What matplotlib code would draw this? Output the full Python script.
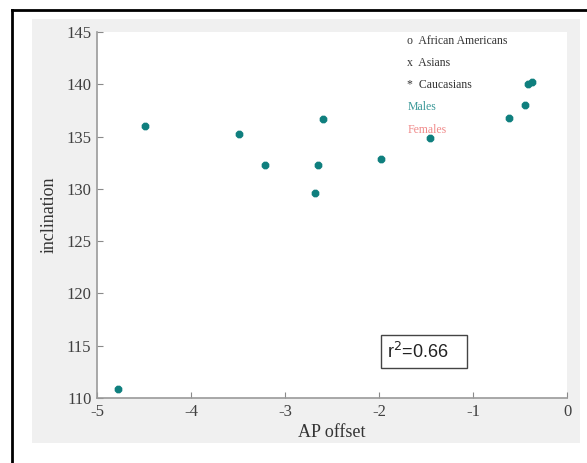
import matplotlib
matplotlib.use("Agg")
import matplotlib.pyplot as plt
from matplotlib.patches import Rectangle
from matplotlib.lines import Line2D

ap_offset = [-4.78, -4.49, -3.49, -3.21, -2.68, -2.65, -2.60, -1.98, -1.46, -0.62, -0.45, -0.41, -0.37]
inclination = [110.9, 136.0, 135.2, 132.3, 129.6, 132.3, 136.7, 132.9, 134.9, 136.8, 138.0, 140.0, 140.2]
legend_lines = ["o  African Americans", "x  Asians", "*  Caucasians", "Males", "Females"]
legend_colors = ["#333333", "#333333", "#333333", "#3a9898", "#f08a8a"]
legend_y = [144.1, 142.0, 139.9, 137.8, 135.6]
r2_text = "r$^2$=0.66"
xticks = [-5, -4, -3, -2, -1, 0]
yticks = [110, 115, 120, 125, 130, 135, 140, 145]

W, H = 587, 463
fig = plt.figure(figsize=(W / 100, H / 100), dpi=100)
fig.patch.set_facecolor("white")

# gray figure region
fig.patches.append(Rectangle((32 / W, 1 - 443 / H), (580 - 32) / W, (443 - 19) / H,
                             transform=fig.transFigure, facecolor="#f0f0f0", edgecolor="none", zorder=-5))
# outer black border (left and top)
fig.lines.append(Line2D([12 / W, 12 / W], [0, 1 - 10 / H], transform=fig.transFigure, color="black", lw=2, zorder=-4))
fig.lines.append(Line2D([12 / W, 1], [1 - 10 / H, 1 - 10 / H], transform=fig.transFigure, color="black", lw=2, zorder=-4))

ax = fig.add_axes([97 / W, 1 - 398 / H, (567 - 97) / W, (398 - 32) / H])
ax.set_zorder(1)
ax.set_facecolor("white")
ax.scatter(ap_offset, inclination, s=24, marker="8", color="#0f7f7e", edgecolors="#0f7f7e", zorder=3)

ax.set_xlim(-5, 0)
ax.set_ylim(110, 145)
ax.set_xticks(xticks)
ax.set_yticks(yticks)
serif = "Liberation Serif"
ax.set_xticklabels([str(t) for t in xticks], fontfamily=serif, fontsize=12, color="#404040")
ax.set_yticklabels([str(t) for t in yticks], fontfamily=serif, fontsize=12, color="#404040")
ax.tick_params(direction="in", length=4, color="#8a8a8a", pad=4)
for s in ["top", "right"]:
    ax.spines[s].set_visible(False)
for s in ["left", "bottom"]:
    ax.spines[s].set_color("#9a9a9a")
    ax.spines[s].set_linewidth(1.2)

ax.set_xlabel("AP offset", fontfamily=serif, fontsize=13, color="#333333", labelpad=3)
ax.set_ylabel("inclination", fontfamily=serif, fontsize=13, color="#333333", labelpad=6)

for txt, c, y in zip(legend_lines, legend_colors, legend_y):
    ax.text(-1.70, y, txt, fontfamily=serif, fontsize=8.5, color=c, va="center", ha="left")

ax.add_patch(Rectangle((-1.98, 112.9), 0.92, 3.15, facecolor="white", edgecolor="#444444", lw=1, zorder=4))
ax.text(-1.91, 114.45, r2_text, fontfamily="Liberation Sans", fontsize=13, color="#222222",
        va="center", ha="left", zorder=5)

fig.savefig("out.png", dpi=100, facecolor=fig.get_facecolor())
